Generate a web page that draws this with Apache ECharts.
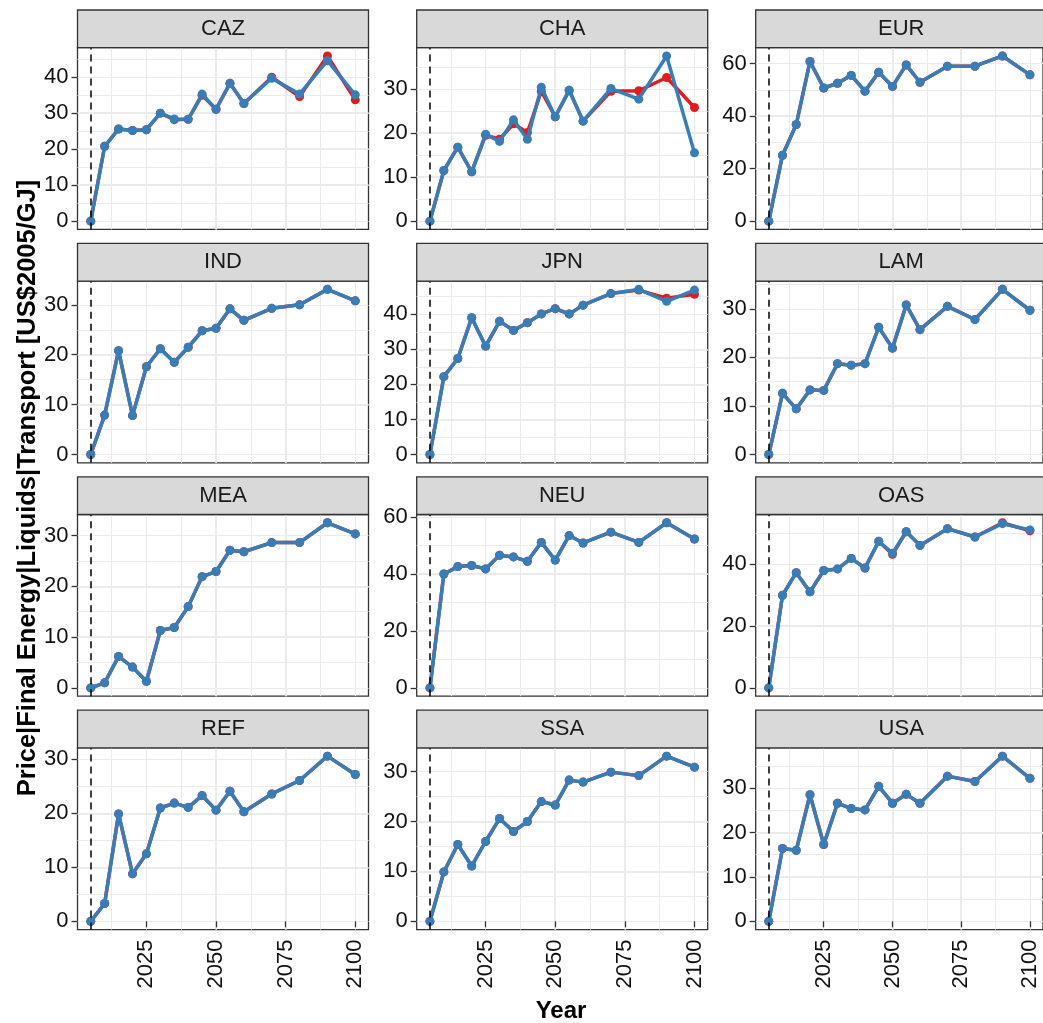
<!DOCTYPE html>
<html><head><meta charset="utf-8">
<script src="https://cdn.jsdelivr.net/npm/echarts@6/dist/echarts.min.js"></script>
<style>html,body{margin:0;padding:0;background:#fff}#c{width:1043px;height:1023px}</style>
</head><body><div id="c"></div><script>
// ---------------- data ----------------
const years = [2005,2010,2015,2020,2025,2030,2035,2040,2045,2050,2055,2060,2070,2080,2090,2100];
const regions = ['CAZ','CHA','EUR','IND','JPN','LAM','MEA','NEU','OAS','REF','SSA','USA'];
const xTickLabels = [2025, 2050, 2075, 2100];
const refYear = 2005;
const yAxisTitle = 'Price|Final Energy|Liquids|Transport [US$2005/GJ]';
const xAxisTitle = 'Year';

const CAZ_red  = [0,20.8,25.6,25.2,25.4,30.0,28.2,28.3,35.0,31.1,38.3,32.7,40.0,34.6,45.9,33.7];
const CAZ_blue = [0,20.8,25.6,25.2,25.4,30.0,28.4,28.3,35.3,31.1,38.3,32.7,39.7,35.3,44.6,35.1];
const CHA_red  = [0,11.5,16.8,11.2,19.5,18.6,22.1,20.1,29.5,23.7,29.7,22.7,29.5,29.6,32.6,25.8];
const CHA_blue = [0,11.5,16.8,11.2,19.7,18.1,23.0,18.6,30.4,23.7,29.7,22.7,30.1,27.7,37.5,15.5];
const EUR_red  = [0,25.1,36.8,60.8,50.7,52.5,55.5,49.5,56.7,51.3,59.5,52.9,59.0,59.0,62.9,55.7];
const EUR_blue = [0,25.1,36.8,60.8,50.7,52.5,55.5,49.5,56.7,51.3,59.5,52.9,59.0,59.0,62.9,55.7];
const IND_red  = [0,7.9,20.8,7.8,17.6,21.2,18.5,21.5,24.8,25.3,29.2,26.9,29.3,30.0,33.1,30.8];
const IND_blue = [0,7.9,20.8,7.8,17.6,21.2,18.5,21.5,24.8,25.3,29.2,26.9,29.3,30.0,33.1,30.8];
const JPN_red  = [0,22.2,27.4,39.0,30.9,38.0,35.4,37.6,40.1,41.6,40.1,42.6,45.9,46.9,44.6,45.7];
const JPN_blue = [0,22.2,27.4,39.0,30.9,38.0,35.4,37.6,40.1,41.6,40.1,42.6,45.9,47.1,43.7,46.9];
const LAM_red  = [0,12.6,9.4,13.3,13.2,18.7,18.4,18.7,26.2,21.9,30.8,25.7,30.5,27.8,34.0,29.7];
const LAM_blue = [0,12.6,9.4,13.3,13.2,18.7,18.4,18.7,26.2,21.9,30.8,25.7,30.5,27.8,34.0,29.7];
const MEA_red  = [0,1.0,6.2,4.1,1.3,11.3,11.9,16.0,21.9,22.9,27.1,26.8,28.6,28.6,32.5,30.3];
const MEA_blue = [0,1.0,6.2,4.1,1.3,11.3,11.9,16.0,21.9,22.9,27.1,26.8,28.6,28.6,32.5,30.3];
const NEU_red  = [0,40.0,42.6,43.0,41.8,46.6,46.0,44.5,51.1,44.9,53.5,50.9,54.7,51.1,58.0,52.3];
const NEU_blue = [0,40.0,42.6,43.0,41.8,46.6,46.0,44.5,51.1,44.9,53.5,50.9,54.7,51.1,58.0,52.3];
const OAS_red  = [0,29.9,37.2,31.0,37.9,38.4,41.8,38.7,47.3,43.1,50.4,46.0,51.4,48.7,53.3,50.7];
const OAS_blue = [0,29.9,37.2,31.0,37.9,38.4,41.8,38.7,47.3,43.5,50.4,46.0,51.4,48.7,53.0,51.0];
const REF_red  = [0,3.3,19.9,8.8,12.5,21.0,21.9,21.1,23.3,20.6,24.1,20.3,23.6,26.1,30.6,27.2];
const REF_blue = [0,3.3,19.9,8.8,12.5,21.0,21.9,21.1,23.3,20.6,24.1,20.3,23.6,26.1,30.6,27.2];
const SSA_red  = [0,9.9,15.4,11.1,16.0,20.6,18.0,20.0,24.0,23.3,28.3,27.9,29.9,29.2,33.1,30.9];
const SSA_blue = [0,9.9,15.4,11.1,16.0,20.6,18.0,20.0,24.0,23.3,28.3,27.9,29.9,29.2,33.1,30.9];
const USA_red  = [0,16.4,16.0,28.5,17.3,26.6,25.4,25.1,30.4,26.6,28.6,26.6,32.7,31.5,37.2,32.2];
const USA_blue = [0,16.4,16.0,28.5,17.3,26.6,25.4,25.1,30.4,26.6,28.6,26.6,32.7,31.5,37.2,32.2];

const redData  = {CAZ:CAZ_red, CHA:CHA_red, EUR:EUR_red, IND:IND_red, JPN:JPN_red, LAM:LAM_red,
                  MEA:MEA_red, NEU:NEU_red, OAS:OAS_red, REF:REF_red, SSA:SSA_red, USA:USA_red};
const blueData = {CAZ:CAZ_blue, CHA:CHA_blue, EUR:EUR_blue, IND:IND_blue, JPN:JPN_blue, LAM:LAM_blue,
                  MEA:MEA_blue, NEU:NEU_blue, OAS:OAS_blue, REF:REF_blue, SSA:SSA_blue, USA:USA_blue};

// ---------------- layout / style ----------------
const FONT = 'Liberation Sans, Arial, sans-serif';
const RED = '#E41A1C', BLUE = '#377EB8';
const GRIDC = '#EBEBEB', BORDER = '#333333', TXT = '#111111';
const W = 291, H = 181.7, stripH = 37.7;
const colLeft = [77.5, 416.7, 755.7];
const rowTop = r => 47.7 + 233.4 * r;

const xLo = Math.min(...years), xHi = Math.max(...years), xPad = (xHi - xLo) * 0.05;
const xMin = xLo - xPad, xMax = xHi + xPad;

const grid = [], xAxis = [], yAxis = [], series = [], graphic = [];

regions.forEach((reg, i) => {
  const r = Math.floor(i / 3), c = i % 3;
  const left = colLeft[c], top = rowTop(r);
  const bottomRow = r === 3;
  grid.push({left: left, top: top, width: W, height: H, show: true,
             backgroundColor: '#fff', borderColor: BORDER, borderWidth: 1.3});

  const vals = redData[reg].concat(blueData[reg]);
  const lo = Math.min(...vals), hi = Math.max(...vals), pad = (hi - lo) * 0.05;
  const yMin = lo - pad, yMax = hi + pad;
  const step = hi > 50 ? 20 : 10;
  const yTicks = [];
  for (let v = Math.ceil(yMin / step) * step; v <= yMax + 1e-9; v += step) yTicks.push(v === 0 ? 0 : v);

  // major x
  xAxis.push({gridIndex: i, type: 'value', min: xMin, max: xMax, minInterval: 25, maxInterval: 25,
    axisLine: {show: false},
    axisTick: {show: bottomRow, customValues: xTickLabels, length: 6, lineStyle: {color: BORDER, width: 1.3}},
    axisLabel: {show: bottomRow, customValues: xTickLabels, rotate: 90, margin: 10, fontSize: 22,
                color: TXT, fontFamily: FONT, formatter: v => String(v)},
    splitLine: {show: true, showMinLine: false, showMaxLine: false, lineStyle: {color: GRIDC, width: 2}}});
  // minor x
  xAxis.push({gridIndex: i, type: 'value', min: xMin, max: xMax, minInterval: 12.5, maxInterval: 12.5,
    axisLine: {show: false}, axisTick: {show: false}, axisLabel: {show: false},
    splitLine: {show: true, showMinLine: false, showMaxLine: false, lineStyle: {color: GRIDC, width: 1}}});
  // major y
  yAxis.push({gridIndex: i, type: 'value', min: yMin, max: yMax, minInterval: step, maxInterval: step,
    axisLine: {show: false},
    axisTick: {show: true, customValues: yTicks, length: 6, lineStyle: {color: BORDER, width: 1.3}},
    axisLabel: {show: true, customValues: yTicks, margin: 9, fontSize: 22, color: TXT, fontFamily: FONT,
                formatter: v => String(Math.round(v))},
    splitLine: {show: true, showMinLine: false, showMaxLine: false, lineStyle: {color: GRIDC, width: 2}}});
  // minor y
  yAxis.push({gridIndex: i, type: 'value', min: yMin, max: yMax, minInterval: step / 2, maxInterval: step / 2,
    axisLine: {show: false}, axisTick: {show: false}, axisLabel: {show: false},
    splitLine: {show: true, showMinLine: false, showMaxLine: false, lineStyle: {color: GRIDC, width: 1}}});

  series.push({type: 'line', name: reg + ' red', xAxisIndex: 2 * i, yAxisIndex: 2 * i,
    data: years.map((y, k) => [y, redData[reg][k]]),
    symbol: 'circle', symbolSize: 9, showSymbol: true, z: 3, animation: false,
    itemStyle: {color: RED}, lineStyle: {color: RED, width: 3.5},
    markLine: {silent: true, symbol: 'none', label: {show: false}, animation: false,
      lineStyle: {color: '#000', type: [7, 5], width: 1.5}, data: [{xAxis: refYear}]}});
  series.push({type: 'line', name: reg + ' blue', xAxisIndex: 2 * i, yAxisIndex: 2 * i,
    data: years.map((y, k) => [y, blueData[reg][k]]),
    symbol: 'circle', symbolSize: 9, showSymbol: true, z: 4, animation: false,
    itemStyle: {color: BLUE}, lineStyle: {color: BLUE, width: 3.5}});

  graphic.push({type: 'rect', z: 10, shape: {x: left, y: top - stripH, width: W, height: stripH},
    style: {fill: '#D9D9D9', stroke: BORDER, lineWidth: 1.3}});
  graphic.push({type: 'text', z: 11, x: left + W / 2, y: top - stripH / 2,
    style: {text: reg, fill: '#1A1A1A', font: '22px ' + FONT, align: 'center', verticalAlign: 'middle',
            textAlign: 'center', textVerticalAlign: 'middle'}});
});

graphic.push({type: 'text', z: 11, x: 28, y: 488, rotation: Math.PI / 2,
  style: {text: yAxisTitle, fill: '#000', font: 'bold 25.5px ' + FONT, align: 'center', verticalAlign: 'middle',
          textAlign: 'center', textVerticalAlign: 'middle'}});
graphic.push({type: 'text', z: 11, x: 561, y: 1011,
  style: {text: xAxisTitle, fill: '#000', font: 'bold 24px ' + FONT, align: 'center', verticalAlign: 'middle',
          textAlign: 'center', textVerticalAlign: 'middle'}});

const chart = echarts.init(document.getElementById('c'), null, {renderer: 'canvas'});
chart.setOption({animation: false, backgroundColor: '#fff', grid, xAxis, yAxis, series, graphic});
</script></body></html>
